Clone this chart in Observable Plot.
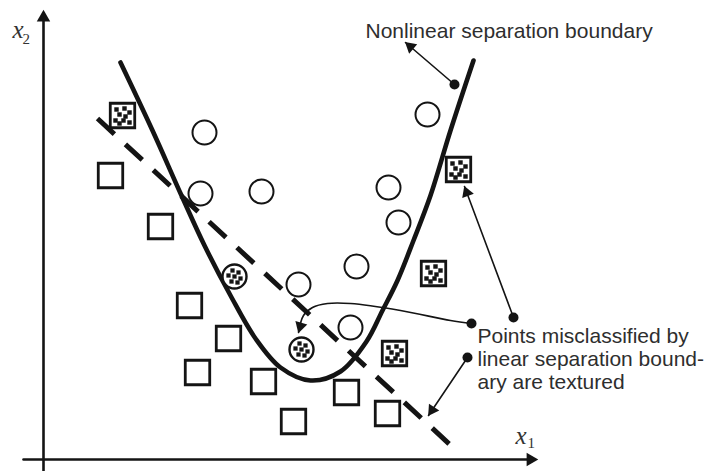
<!DOCTYPE html>
<html>
<head>
<meta charset="utf-8">
<script src="https://cdn.jsdelivr.net/npm/d3@7"></script>
<script src="https://cdn.jsdelivr.net/npm/@observablehq/plot@0.6"></script>
<style>
  html, body { margin: 0; padding: 0; background: #fff; }
  #chart { width: 706px; height: 471px; }
</style>
</head>
<body>
<div id="chart"></div>
<script>
// ---- data (x1, x2 in abstract feature units) ----
const circlesX = [16.1, 15.7, 21.8, 38.4, 34.5, 35.5, 31.3, 25.5, 30.7];
const circlesY = [32.7, 26.6, 26.8, 34.5, 27.2, 23.7, 19.3, 17.5, 13.2];
const texCirclesX = [19.1, 25.8];
const texCirclesY = [18.3, 11.0];
const squaresX = [6.7, 11.7, 14.6, 18.5, 15.4, 22.0, 25.0, 30.3, 34.4];
const squaresY = [28.4, 23.3, 15.4, 12.1, 8.7, 7.8, 3.8, 6.7, 4.6];
const texSquaresX = [7.9, 41.5, 39.0, 35.1];
const texSquaresY = [34.4, 29.0, 18.6, 10.6];
const curveX = [7.7, 10.9, 13.8, 16.1, 18.7, 21.2, 23.7, 26.7, 29.7, 32.3, 33.9, 35.4, 37.0, 38.7, 40.7, 43.0];
const curveY = [39.7, 32.9, 26.4, 21.4, 16.4, 12.1, 9.2, 7.9, 8.8, 11.8, 14.9, 17.9, 21.9, 26.4, 32.9, 39.9];
const linearX = [5.4, 41.5];
const linearY = [34.1, 0.7];
const axisX1 = [-2.0, 49.4];   // horizontal axis extent
const axisX2 = [-1.2, 44.9];   // vertical axis extent
const notes = [
  {text: "Nonlinear separation boundary", x: 32.2, y: 42.2},
  {text: "Points misclassified by", x: 43.4, y: 11.7},
  {text: "linear separation bound-", x: 43.4, y: 9.4},
  {text: "ary are textured", x: 43.4, y: 7.1}
];
// annotation arrows: first point = dot, last point = arrow tip
const arrowNonlinear = {xs: [41.1, 36.2], ys: [37.5, 41.7]};
const arrowCurved = {xs: [42.8, 40.7, 35.7, 30.7, 28.4, 26.9, 26.0, 25.5], ys: [13.6, 13.9, 14.9, 15.6, 15.6, 15.2, 14.4, 12.7]};
const arrowSquare = {xs: [47.0, 42.1], ys: [14.2, 27.3]};
const arrowDashed = {xs: [42.4, 38.5], ys: [10.2, 4.4]};
const axisLabels = [
  {t: "x", x: -3.1, y: 42.2, sub: "2", sx: -2.1, sy: 41.6},
  {t: "x", x: 47.2, y: 1.6, sub: "1", sx: 48.4, sy: 1.2}
];

// ---- build ----
const W = 706, H = 471;
const xDomain = [-4.3, 66.3], yDomain = [-1.2, 45.9];
const sx = d3.scaleLinear(xDomain, [0, W]);
const sy = d3.scaleLinear(yDomain, [H, 0]);
const zip = (xs, ys) => xs.map((x, i) => ({x, y: ys[i]}));

const circles = zip(circlesX, circlesY);
const texCircles = zip(texCirclesX, texCirclesY);
const squares = zip(squaresX, squaresY);
const texSquares = zip(texSquaresX, texSquaresY);
const curve = zip(curveX, curveY);
const linear = zip(linearX, linearY);

// arrowhead (filled triangle) placed just behind the tip, rotated along last segment
function head(xs, ys, back) {
  const n = xs.length;
  const x0 = sx(xs[n - 2]), y0 = sy(ys[n - 2]), x1 = sx(xs[n - 1]), y1 = sy(ys[n - 1]);
  const len = Math.hypot(x1 - x0, y1 - y0);
  const ux = (x1 - x0) / len, uy = (y1 - y0) / len;
  return {
    x: sx.invert(x1 - ux * back), y: sy.invert(y1 - uy * back),
    rotate: Math.atan2(ux, -uy) * 180 / Math.PI
  };
}
const axisHeads = [
  head([axisX1[0], axisX1[1]], [0, 0], 7),
  head([0, 0], [axisX2[0], axisX2[1]], 7)
];
const noteArrows = [arrowNonlinear, arrowCurved, arrowSquare, arrowDashed];
const noteHeads = noteArrows.map(a => head(a.xs, a.ys, 6.5));
const noteDots = noteArrows.map(a => ({x: a.xs[0], y: a.ys[0]}));

const sqTex = [[-6,-6],[2,-7],[7,-3],[-3,-1],[3,1],[-7,5],[1,5],[7,7],[-3,8]];
const ciTex = [[-2,-6],[4,-4],[-6,-1],[0,0],[6,2],[-3,5],[3,6]];

const ink = "#141414";
const marks = [
  // axes
  Plot.line([{x: axisX1[0], y: 0}, {x: axisX1[1] - 1.0, y: 0}], {x: "x", y: "y", stroke: ink, strokeWidth: 2.6}),
  Plot.line([{x: 0, y: axisX2[0]}, {x: 0, y: axisX2[1] - 1.0}], {x: "x", y: "y", stroke: ink, strokeWidth: 2.6}),
  Plot.dot(axisHeads, {x: "x", y: "y", rotate: "rotate", symbol: "triangle", r: 5, fill: ink, stroke: "none"}),
  // boundaries
  Plot.line(curve, {x: "x", y: "y", curve: "catmull-rom", stroke: ink, strokeWidth: 4.6}),
  Plot.line(linear, {x: "x", y: "y", stroke: ink, strokeWidth: 5, strokeDasharray: "23,15", strokeLinecap: "butt"}),
  // points
  Plot.dot(circles, {x: "x", y: "y", r: 12, fill: "white", stroke: ink, strokeWidth: 2}),
  Plot.dot(texCircles, {x: "x", y: "y", r: 12, fill: "white", stroke: ink, strokeWidth: 2.4}),
  Plot.dot(squares, {x: "x", y: "y", symbol: "square", r: 13.8, fill: "white", stroke: ink, strokeWidth: 2.8}),
  Plot.dot(texSquares, {x: "x", y: "y", symbol: "square", r: 13.8, fill: "white", stroke: ink, strokeWidth: 2.8}),
  ...sqTex.map(([dx, dy]) => Plot.dot(texSquares, {x: "x", y: "y", dx, dy, symbol: "square", r: 2.5, fill: ink, stroke: "none"})),
  ...ciTex.map(([dx, dy]) => Plot.dot(texCircles, {x: "x", y: "y", dx, dy, symbol: "square", r: 2.4, fill: ink, stroke: "none"})),
  // annotation arrows
  ...noteArrows.map(a => Plot.line(zip(a.xs, a.ys), {x: "x", y: "y", curve: "catmull-rom", stroke: ink, strokeWidth: 1.6})),
  Plot.dot(noteHeads, {x: "x", y: "y", rotate: "rotate", symbol: "triangle", r: 4.6, fill: ink, stroke: "none"}),
  Plot.dot(noteDots, {x: "x", y: "y", r: 5, fill: ink, stroke: "none"}),
  // texts
  Plot.text(notes, {x: "x", y: "y", text: "text", textAnchor: "start", lineAnchor: "bottom",
    fontFamily: "Liberation Sans, Arial, sans-serif", fontSize: 21, fill: "#2e2e2e"}),
  Plot.text(axisLabels, {x: "x", y: "y", text: "t", textAnchor: "start", lineAnchor: "bottom",
    fontFamily: "Liberation Serif, Times New Roman, serif", fontStyle: "italic", fontSize: 25, fill: "#333"}),
  Plot.text(axisLabels, {x: "sx", y: "sy", text: "sub", textAnchor: "start", lineAnchor: "bottom",
    fontFamily: "Liberation Serif, Times New Roman, serif", fontSize: 15, fill: "#333"})
];

const chart = Plot.plot({
  width: W, height: H, margin: 0,
  x: {domain: xDomain, range: [0, W], axis: null},
  y: {domain: yDomain, range: [H, 0], axis: null},
  style: {background: "white", overflow: "visible"},
  marks
});
document.getElementById("chart").appendChild(chart);
</script>
</body>
</html>
